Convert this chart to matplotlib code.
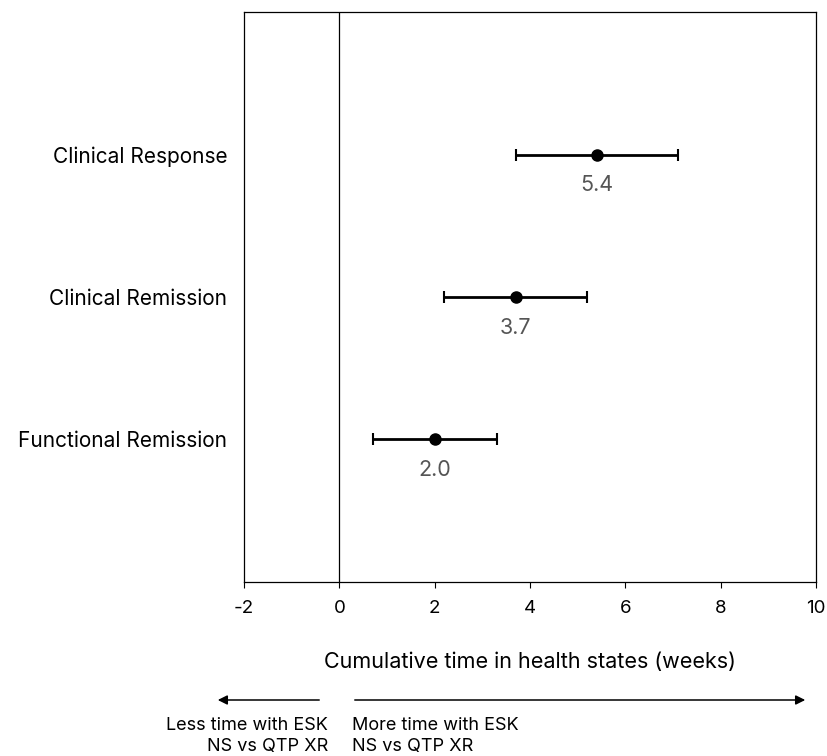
import matplotlib
matplotlib.use("Agg")
import matplotlib.pyplot as plt

plt.rcParams['font.family'] = ['Inter', 'DejaVu Sans']

outcomes = ['Clinical Response', 'Clinical Remission', 'Functional Remission']
means = [5.4, 3.7, 2.0]
lower = [3.7, 2.2, 0.7]
upper = [7.1, 5.2, 3.3]
xticks = [-2, 0, 2, 4, 6, 8, 10]

fig = plt.figure(figsize=(8.28, 7.56), dpi=100)
ax = fig.add_axes([0.2947, 0.2302, 0.6908, 0.7539])

ypos = [3, 2, 1]
err = [[m - lo for m, lo in zip(means, lower)], [hi - m for m, hi in zip(means, upper)]]
ax.errorbar(means, ypos, xerr=err, fmt='o', color='black', ms=8,
            elinewidth=2, capsize=4, capthick=1.5)
for m, y in zip(means, ypos):
    ax.annotate('%.1f' % m, (m, y), xytext=(0, -22), textcoords='offset points',
                ha='center', va='center', fontsize=15.5, color='#555555')

ax.axvline(0, color='black', lw=0.9)
ax.set_xlim(-2, 10)
ax.set_ylim(0, 4)
ax.set_xticks(xticks)
ax.set_xticklabels([str(t) for t in xticks], fontsize=13.5)
ax.set_yticks(ypos)
ax.set_yticklabels(outcomes, fontsize=15)
ax.tick_params(axis='y', length=0, pad=12)
ax.tick_params(axis='x', length=4, pad=9)
for s in ax.spines.values():
    s.set_linewidth(0.9)
ax.set_xlabel('Cumulative time in health states (weeks)', fontsize=15.5, labelpad=25)

ay = (756 - 700) / 756
fig.add_artist(matplotlib.patches.FancyArrowPatch((322 / 828, ay), (215 / 828, ay),
               transform=fig.transFigure, arrowstyle='-|>', mutation_scale=14,
               color='black', lw=1.1))
fig.add_artist(matplotlib.patches.FancyArrowPatch((352 / 828, ay), (808 / 828, ay),
               transform=fig.transFigure, arrowstyle='-|>', mutation_scale=14,
               color='black', lw=1.1))
fig.text(328 / 828, (756 - 717) / 756, 'Less time with ESK\nNS vs QTP XR', ha='right', va='top',
         fontsize=13, linespacing=1.3)
fig.text(352 / 828, (756 - 717) / 756, 'More time with ESK\nNS vs QTP XR', ha='left', va='top',
         fontsize=13, linespacing=1.3)

fig.savefig('out.png', dpi=100)
